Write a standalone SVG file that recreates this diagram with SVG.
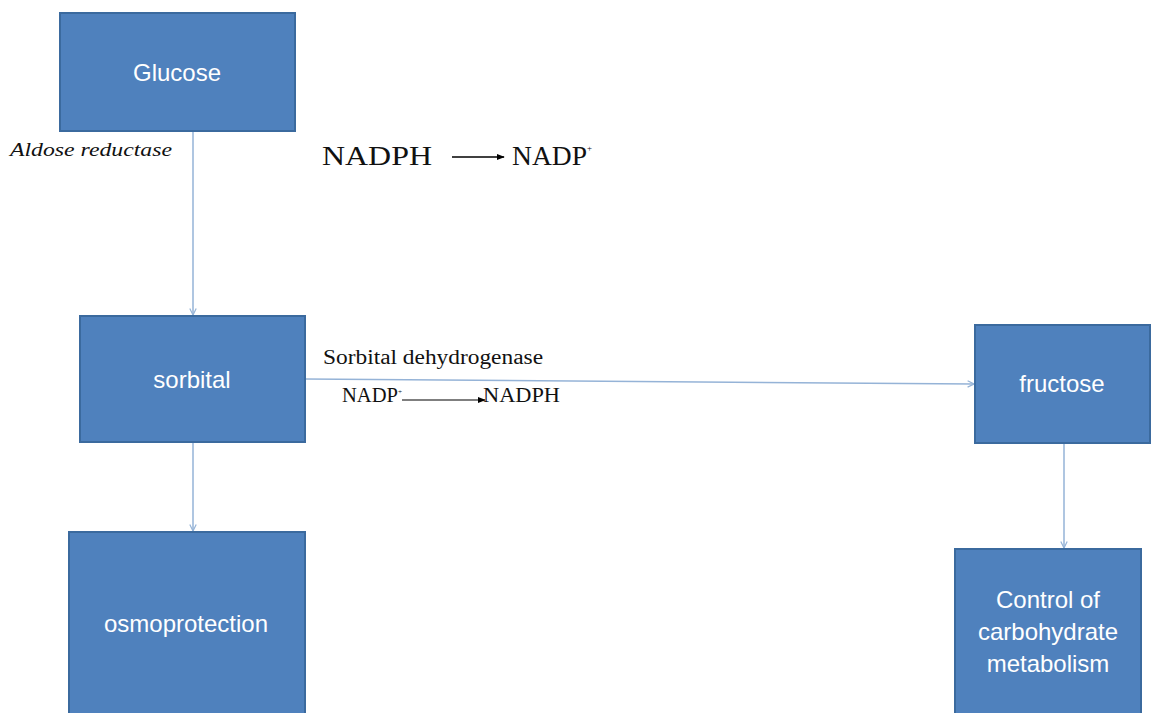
<svg xmlns="http://www.w3.org/2000/svg" width="1152" height="713" viewBox="0 0 1152 713">
<style>
.box{fill:#4F81BD;stroke:#3B6A9E;stroke-width:2}
.lbl{fill:#FFFFFF;font-family:"Liberation Sans",Arial,sans-serif;font-size:24px;text-anchor:middle}
.con{stroke:#95B3D7;stroke-width:1.5;fill:none}
.ser{font-family:"Liberation Serif","Times New Roman",serif;fill:#111}
.blk{stroke:#000;stroke-width:1.5;fill:none}
</style>
<defs>
<marker id="va" viewBox="0 0 10 10" refX="9" refY="5" markerWidth="8" markerHeight="8" orient="auto" markerUnits="userSpaceOnUse">
<path d="M1,1 L9,5 L1,9" fill="none" stroke="#95B3D7" stroke-width="1.5"/>
</marker>
<marker id="ba" viewBox="0 0 10 10" refX="9" refY="5" markerWidth="8" markerHeight="8" orient="auto" markerUnits="userSpaceOnUse">
<path d="M0,1 L10,5 L0,9 Z" fill="#000"/>
</marker>
</defs>
<rect width="1152" height="713" fill="#FFFFFF"/>
<g id="connectors">
<line class="con" x1="193" y1="131" x2="193" y2="315" marker-end="url(#va)"/>
<line class="con" x1="193" y1="442" x2="193" y2="531" marker-end="url(#va)"/>
<line class="con" x1="305" y1="379" x2="974" y2="384" marker-end="url(#va)"/>
<line class="con" x1="1064" y1="443" x2="1064" y2="548" marker-end="url(#va)"/>
</g>
<g id="glucose"><rect class="box" x="60" y="13" width="235" height="118"/><text class="lbl" x="177" y="81">Glucose</text></g>
<g id="sorbital"><rect class="box" x="80" y="316" width="225" height="126"/><text class="lbl" x="192" y="388">sorbital</text></g>
<g id="osmoprotection"><rect class="box" x="69" y="532" width="236" height="190"/><text class="lbl" x="186" y="632">osmoprotection</text></g>
<g id="fructose"><rect class="box" x="975" y="325" width="175" height="118"/><text class="lbl" x="1062" y="392">fructose</text></g>
<g id="control"><rect class="box" x="955" y="549" width="186" height="172"/>
<text class="lbl" x="1048" y="608">Control of</text>
<text class="lbl" x="1048" y="640">carbohydrate</text>
<text class="lbl" x="1048" y="672">metabolism</text></g>
<g id="annotations">
<text class="ser" x="10" y="156" font-size="19" font-style="italic" textLength="162" lengthAdjust="spacingAndGlyphs">Aldose reductase</text>
<text class="ser" x="322" y="165" font-size="28" textLength="110" lengthAdjust="spacingAndGlyphs">NADPH</text>
<line class="blk" x1="452" y1="157" x2="504" y2="157" marker-end="url(#ba)"/>
<text class="ser" x="512" y="165" font-size="28" textLength="80" lengthAdjust="spacingAndGlyphs">NADP<tspan font-size="9" dy="-14">+</tspan></text>
<text class="ser" x="323" y="364" font-size="20" textLength="220" lengthAdjust="spacingAndGlyphs">Sorbital dehydrogenase</text>
<text class="ser" x="342" y="402" font-size="20" textLength="60" lengthAdjust="spacingAndGlyphs">NADP<tspan font-size="7" dy="-8">+</tspan></text>
<line x1="402" y1="400" x2="485" y2="400" stroke="#000" stroke-width="1.2" marker-end="url(#ba)"/>
<text class="ser" x="483" y="402" font-size="20" textLength="77" lengthAdjust="spacingAndGlyphs">NADPH</text>
</g>
</svg>
